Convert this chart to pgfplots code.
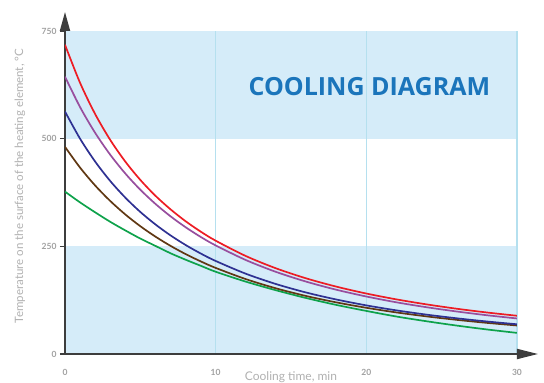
\documentclass[border=0pt]{standalone}
\usepackage{fontspec}
\setmainfont{Lato}
\newfontfamily\titlefont{Open Sans}
\usepackage{pgfplots}
\pgfplotsset{compat=1.18}
\usetikzlibrary{arrows.meta}
\definecolor{band}{HTML}{D5ECF9}
\definecolor{gridc}{HTML}{B5E0EF}
\definecolor{axisc}{HTML}{3D3D3D}
\definecolor{tickc}{HTML}{A0A0A0}
\definecolor{labc}{HTML}{B0B0B0}
\definecolor{titlec}{HTML}{1B75BB}
\definecolor{cred}{HTML}{ED1C24}
\definecolor{cpurple}{HTML}{984E9E}
\definecolor{cblue}{HTML}{2E3192}
\definecolor{cbrown}{HTML}{603813}
\definecolor{cgreen}{HTML}{0EA24B}
\begin{document}
\begin{tikzpicture}
\begin{axis}[
  set layers,
  at={(0,0)}, anchor=south west,
  scale only axis, width=452pt, height=323pt,
  xmin=0, xmax=30, ymin=0, ymax=750,
  axis lines=left,
  axis line style={line width=1.8pt, color=axisc},
  x axis line style={-{Triangle[length=21pt,width=10pt]}, shorten >=-21pt},
  y axis line style={-{Triangle[length=19pt,width=10pt]}, shorten >=-19pt},
  xtick={0,10,20,30}, ytick={0,250,500,750},
  x tick style={draw=none},
  y tick style={line width=1.2pt, color=axisc},
  tick align=outside, major tick length=5pt,
  xmajorgrids, grid style={gridc, line width=1.2pt},
  /pgf/number format/assume math mode=true,
  ticklabel style={font=\bfseries\fontsize{8.5}{10}\selectfont, color=tickc},
  xticklabel style={yshift=-7pt},
  xlabel={Cooling time, min},
  ylabel={Temperature on the surface of the heating element, °C},
  every axis x label/.style={at={(axis description cs:0.5,0)}, anchor=center, yshift=-23pt, font=\fontsize{12}{14}\selectfont, color=labc},
  every axis y label/.style={at={(axis description cs:-0.0996,0.52)}, anchor=center, rotate=90, font=\fontsize{11.5}{13}\selectfont, color=labc},
  every axis plot/.append style={line width=1.7pt, smooth},
]
\addplot[fill=band, draw=none, sharp plot, forget plot, on layer=axis background] coordinates {(0,500)(30,500)(30,750)(0,750)} -- cycle;
\addplot[fill=band, draw=none, sharp plot, forget plot, on layer=axis background] coordinates {(0,0)(30,0)(30,250)(0,250)} -- cycle;
\addplot[cgreen] coordinates {(0,377)(1,352)(2,329)(3,307)(4,287)(5,268)(6,251)(7,234)(8,219)(9,205)(10,191)(12,168)(14,148)(16,130)(18,114)(20,100)(22,87)(24,76)(26,66)(28,57)(30,49)};
\addplot[cbrown] coordinates {(0,481)(1,432.8)(2,391.3)(3,355.4)(4,324.1)(5,296.7)(6,272.6)(7,251.2)(8,232.1)(9,215.2)(10,199.9)(12,173.9)(14,152.5)(16,134.7)(18,119.9)(20,107.3)(22,96.5)(24,87.3)(26,79.3)(28,72.3)(30,66.2)};
\addplot[cblue] coordinates {(0,563)(1,499.9)(2,446.9)(3,401.8)(4,363.2)(5,329.8)(6,300.9)(7,275.5)(8,253.2)(9,233.5)(10,216.0)(12,186.4)(14,162.5)(16,142.8)(18,126.6)(20,112.9)(22,101.3)(24,91.4)(26,82.9)(28,75.5)(30,69.0)};
\addplot[cpurple] coordinates {(0,644)(1,573.3)(2,513.6)(3,462.8)(4,419.2)(5,381.4)(6,348.6)(7,319.8)(8,294.5)(9,272.0)(10,252.1)(12,218.2)(14,190.7)(16,168.1)(18,149.3)(20,133.5)(22,120.0)(24,108.6)(26,98.7)(28,90.0)(30,82.5)};
\addplot[cred] coordinates {(0,718)(1,629.6)(2,557.2)(3,497.2)(4,446.9)(5,404.2)(6,367.5)(7,336.0)(8,308.4)(9,284.3)(10,263.1)(12,227.5)(14,199.0)(16,175.7)(18,156.5)(20,140.4)(22,126.8)(24,115.2)(26,105.1)(28,96.4)(30,88.8)};
\node[font=\titlefont\bfseries\fontsize{25}{28}\selectfont, color=titlec] at (axis cs:20.2,622) {COOLING DIAGRAM};
\end{axis}
\pgfresetboundingbox
\path[use as bounding box] (-65pt,-29pt) rectangle (479pt,354pt);
\end{tikzpicture}
\end{document}
